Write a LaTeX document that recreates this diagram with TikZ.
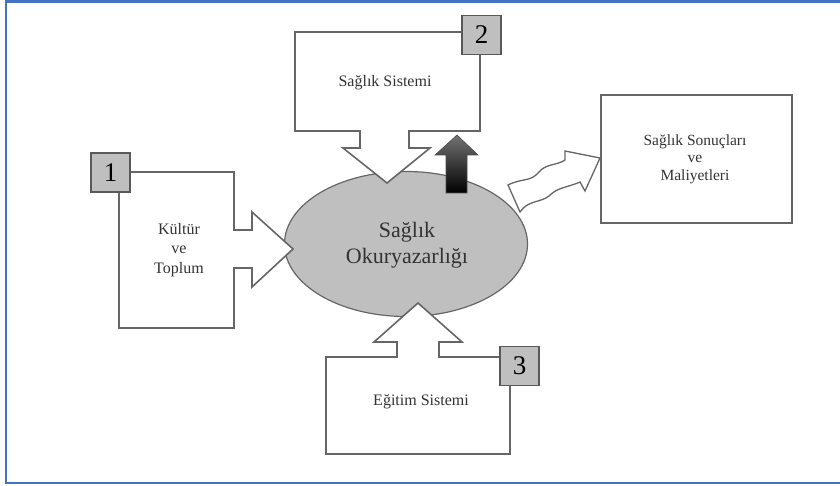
\documentclass[tikz,border=0pt]{standalone}
\usepackage{fontspec}
\setmainfont{Liberation Serif}
\usepackage{tikz}
\usetikzlibrary{shapes,shapes.misc}

\begin{document}
\begin{tikzpicture}[x=1pt, y=-1pt, line join=miter]
      \tikzstyle{frame} = [draw=black!60, line width=1.6pt, fill=white]
      \tikzstyle{word} = [font=\fontsize{16}{19.5}\selectfont, color=black!80, align=center]
      \tikzstyle{numbox} = [draw=black!65, line width=1.4pt, fill=black!25, minimum size=39pt,
        inner sep=0pt, font=\fontsize{27}{27}\selectfont]
      \useasboundingbox (0,0) rectangle (840,486);
      \draw[color={rgb,255:red,68;green,114;blue,196}, line width=2.4pt] (846,1.5) -- (6,1.5) -- (6,483) -- (846,483);
      \node (OKU) [ellipse, draw=black!60, line width=1.2pt, fill=black!25,
        minimum width=243pt, minimum height=145pt] at (406,244) {};
      % box 1 with its arrow
      \draw[frame] (119,172) -- (234,172) -- (234,230) -- (252,230) -- (252,212) -- (293,249)
        -- (252,287) -- (252,268) -- (234,268) -- (234,328) -- (119,328) -- cycle;
      % box 2 with its arrow
      \draw[frame] (295,32) -- (480,32) -- (480,131) -- (409,131) -- (409,148) -- (430,148)
        -- (387,183) -- (343,148) -- (360,148) -- (360,131) -- (295,131) -- cycle;
      % box 3 with its arrow
      \draw[frame] (326,357) -- (397,357) -- (397,342) -- (374,342) -- (418,303) -- (462,342)
        -- (439,342) -- (439,357) -- (510,357) -- (510,454) -- (326,454) -- cycle;
      \shade[top color=black!55, bottom color=black, draw=black!70, line width=0.6pt]
        (446,193) -- (446,155) -- (435,155) -- (457,135) -- (478,155) -- (467,155) -- (467,193) -- cycle;
      \node (SON) [draw=black!60, line width=1.6pt, minimum width=191pt, minimum height=128pt,
        anchor=north west] at (600,94) {};
      \draw[draw=black!60, line width=1.3pt, fill=white] (508,185)
        .. controls (522,178) and (530,182) .. (538,173)
        .. controls (546,163) and (556,166) .. (565,160) -- (565,151) -- (600,158) -- (585,191) -- (580,182)
        .. controls (566,188) and (558,187) .. (549,196)
        .. controls (540,203) and (528,200) .. (520,212) -- cycle;
      \node (n1) [numbox] at (110.5,172.5) {1};
      \node (n2) [numbox] at (481.5,35) {2};
      \node (n3) [numbox] at (519.5,366) {3};
      \node (saglik) [word] at (385,83) {Sağlık Sistemi};
      \node (kultur) [word] at (179,250) {Kültür\\ve\\Toplum};
      \node (egitim) [word] at (421,402) {Eğitim Sistemi};
      \node (sonuc) [word, font=\fontsize{15.5}{17.5}\selectfont] at (695,159) {Sağlık Sonuçları\\ve\\Maliyetleri};
      \node (okutext) [word, font=\fontsize{22}{25.5}\selectfont] at (407,245) {Sağlık\\Okuryazarlığı};
    \end{tikzpicture}
\end{document}
